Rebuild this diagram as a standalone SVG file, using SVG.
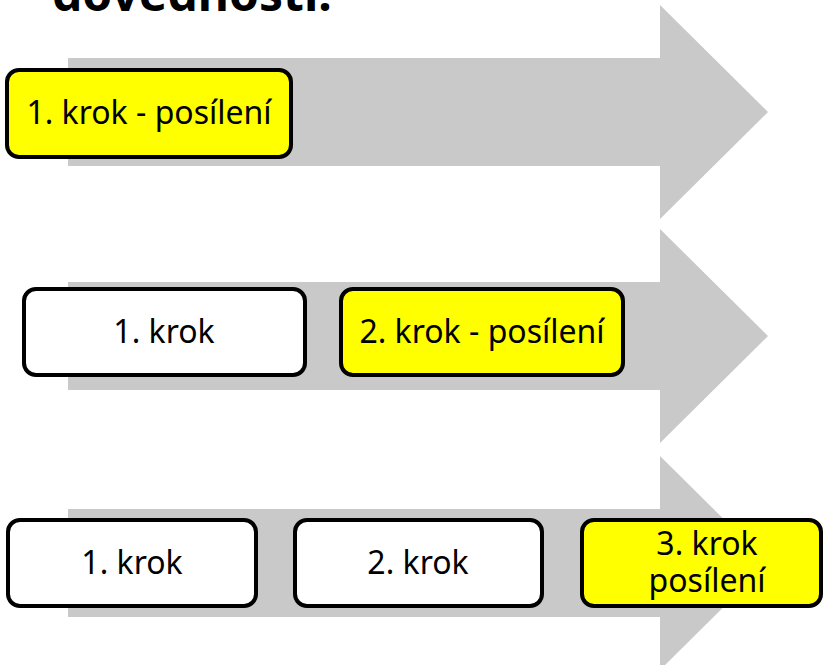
<svg xmlns="http://www.w3.org/2000/svg" width="824" height="665" viewBox="0 0 824 665">
<style>
.arrow{fill:#c9c9c9}
.box{stroke:#000;stroke-width:4}
.hi{fill:#ffff00}
.wh{fill:#ffffff}
.t{font-family:"Noto Sans","Open Sans",sans-serif;font-size:32px;fill:#000;text-anchor:middle}
.title{font-family:"Noto Sans","Open Sans",sans-serif;font-size:48px;font-weight:bold;fill:#000}
</style>
<rect width="824" height="665" fill="#ffffff"/>
<text class="title" x="52" y="11">dovednosti.</text>
<g id="connectors">
<polygon class="arrow" points="68,58 660,58 660,5 768,112 660,219 660,166 68,166"/>
<polygon class="arrow" points="68,282 660,282 660,229 768,336 660,443 660,390 68,390"/>
<polygon class="arrow" points="68,509 660,509 660,456 768,563 660,670 660,617 68,617"/>
</g>
<g id="r1b1"><rect class="box hi" x="7" y="70" width="284" height="87" rx="12"/><text class="t" x="149" y="124">1. krok - posílení</text></g>
<g id="r2b1"><rect class="box wh" x="24" y="289" width="281" height="86" rx="12"/><text class="t" x="164" y="343">1. krok</text></g>
<g id="r2b2"><rect class="box hi" x="341" y="289" width="282" height="86" rx="12"/><text class="t" x="482" y="343">2. krok - posílení</text></g>
<g id="r3b1"><rect class="box wh" x="8" y="520" width="248" height="86" rx="12"/><text class="t" x="132" y="574">1. krok</text></g>
<g id="r3b2"><rect class="box wh" x="295" y="520" width="247" height="86" rx="12"/><text class="t" x="418" y="574">2. krok</text></g>
<g id="r3b3"><rect class="box hi" x="582" y="520" width="239" height="86" rx="12"/><text class="t" x="707" y="555">3. krok</text><text class="t" x="707" y="592">posílení</text></g>
</svg>
